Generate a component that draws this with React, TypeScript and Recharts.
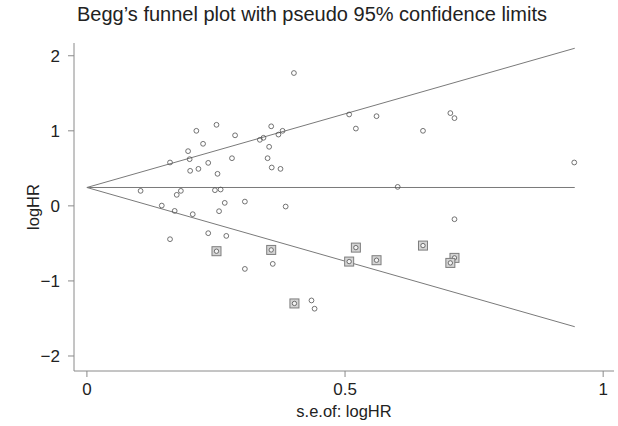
import { ScatterChart, Scatter, XAxis, YAxis } from 'recharts'

// observed studies (standard error of logHR, logHR)
const studySe = [
  0.401, 0.251, 0.212, 0.357, 0.379, 0.371, 0.287, 0.335, 0.342, 0.225,
  0.353, 0.196, 0.199, 0.161, 0.281, 0.35, 0.235, 0.2, 0.216, 0.358,
  0.375, 0.253, 0.104, 0.248, 0.259, 0.182, 0.174, 0.145, 0.17, 0.205,
  0.267, 0.256, 0.306, 0.385, 0.235, 0.27, 0.161, 0.36, 0.306, 0.435,
  0.441, 0.508, 0.561, 0.521, 0.651, 0.704, 0.712, 0.944, 0.602, 0.712,
]
const studyLogHR = [
  1.77, 1.08, 1.0, 1.06, 1.0, 0.95, 0.94, 0.88, 0.907, 0.827,
  0.787, 0.729, 0.622, 0.578, 0.635, 0.635, 0.573, 0.467, 0.493, 0.511,
  0.493, 0.427, 0.2, 0.209, 0.218, 0.2, 0.147, 0.004, -0.067, -0.111,
  0.04, -0.071, 0.057, -0.009, -0.364, -0.4, -0.444, -0.773, -0.84, -1.26,
  -1.37, 1.218, 1.195, 1.03, 1.0, 1.236, 1.169, 0.578, 0.253, -0.178,
]

// filled (imputed) studies, drawn as squares
const filledSe = [0.251, 0.357, 0.402, 0.521, 0.508, 0.561, 0.651, 0.712, 0.704]
const filledLogHR = [-0.604, -0.587, -1.3, -0.556, -0.742, -0.724, -0.529, -0.693, -0.76]

// pseudo 95% limits and pooled estimate
const limitSe = [0, 0.945]
const upperLimit = [0.245, 2.1]
const lowerLimit = [0.245, -1.61]
const pooled = [0.245, 0.245]

const xTicks = [0, 0.5, 1]
const yTicks = [-2, -1, 0, 1, 2]

const studies = studySe.map((se, i) => ({ se, lhr: studyLogHR[i] }))
const filled = filledSe.map((se, i) => ({ se, lhr: filledLogHR[i] }))
const upper = limitSe.map((se, i) => ({ se, lhr: upperLimit[i] }))
const lower = limitSe.map((se, i) => ({ se, lhr: lowerLimit[i] }))
const center = limitSe.map((se, i) => ({ se, lhr: pooled[i] }))

const FONT = '"Liberation Sans", Arial, Helvetica, sans-serif'
const AXIS = '#8a8a8a'
const LINE = '#7a7a7a'
const TEXT = '#222'

const Circle = (p: any) => (
  <circle cx={p.cx} cy={p.cy} r={2.4} fill="none" stroke="#505050" strokeWidth={0.8} />
)

const Square = (p: any) => (
  <g>
    <rect x={p.cx - 4.5} y={p.cy - 4.5} width={9} height={9} fill="#d4d4d4" stroke="#7d7d7d" strokeWidth={1} />
    <circle cx={p.cx} cy={p.cy} r={2.2} fill="#f4f4f4" stroke="#505050" strokeWidth={0.8} />
  </g>
)

const NoDot = () => <g />

export default function App() {
  return (
    <div style={{ position: 'relative', width: 618, height: 426, background: '#fff', fontFamily: FONT }}>
      <style>{'body{margin:0}'}</style>
      <div
        style={{
          position: 'absolute',
          top: 2,
          left: 0,
          width: 624,
          textAlign: 'center',
          fontSize: 20,
          color: TEXT,
          lineHeight: '24px',
        }}
      >
        Begg’s funnel plot with pseudo 95% confidence limits
      </div>
      <ScatterChart width={618} height={426} margin={{ top: 43, right: 4, bottom: 0, left: 0 }}>
        <XAxis
          type="number"
          dataKey="se"
          domain={[-0.025, 1.021]}
          ticks={xTicks}
          allowDataOverflow
          height={55}
          tickSize={6}
          tickMargin={6}
          stroke={AXIS}
          tick={{ fill: TEXT, fontSize: 17, fontFamily: FONT }}
          tickFormatter={(v: number) => String(v)}
          label={{ value: 's.e.of: logHR', position: 'insideBottom', offset: 9, fill: TEXT, fontSize: 16.5, fontFamily: FONT }}
        />
        <YAxis
          type="number"
          dataKey="lhr"
          domain={[-2.2, 2.17]}
          ticks={yTicks}
          allowDataOverflow
          width={74}
          tickSize={6}
          tickMargin={8}
          stroke={AXIS}
          tick={{ fill: TEXT, fontSize: 17, fontFamily: FONT }}
          tickFormatter={(v: number) => (v < 0 ? '−' + Math.abs(v) : String(v))}
          label={{
            value: 'logHR',
            angle: -90,
            position: 'insideLeft',
            offset: 33,
            fill: TEXT,
            fontSize: 16.5,
            fontFamily: FONT,
            style: { textAnchor: 'middle' },
          }}
        />
        <Scatter data={upper} line={{ stroke: LINE, strokeWidth: 1 }} shape={NoDot} isAnimationActive={false} />
        <Scatter data={center} line={{ stroke: LINE, strokeWidth: 1 }} shape={NoDot} isAnimationActive={false} />
        <Scatter data={lower} line={{ stroke: LINE, strokeWidth: 1 }} shape={NoDot} isAnimationActive={false} />
        <Scatter data={filled} shape={Square} isAnimationActive={false} />
        <Scatter data={studies} shape={Circle} isAnimationActive={false} />
      </ScatterChart>
    </div>
  )
}
